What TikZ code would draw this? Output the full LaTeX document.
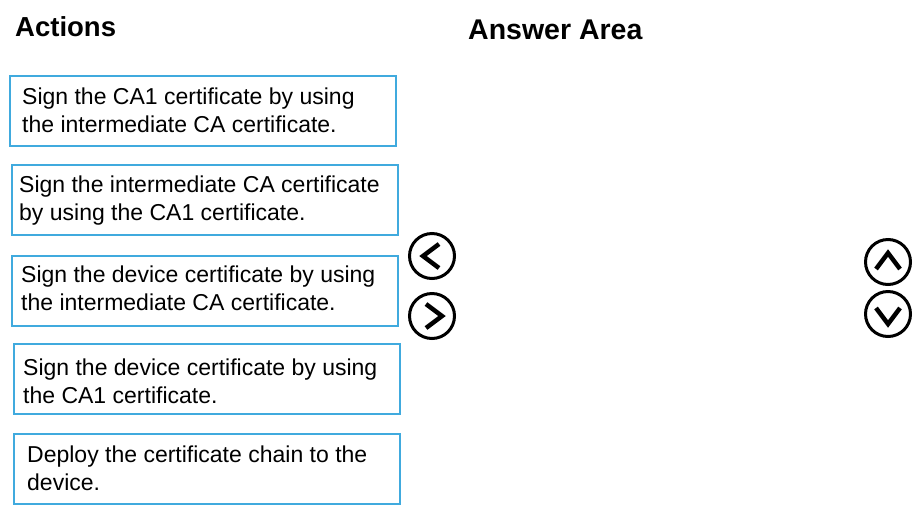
\documentclass[tikz,border=0pt]{standalone}
\usepackage{fontspec}
\setmainfont{Liberation Sans}

\definecolor{boxblue}{RGB}{64,170,222}

\tikzset{
  actbox/.style={draw=boxblue, line width=2pt, anchor=north west, minimum width=386pt, minimum height=70pt, inner sep=0pt},
  acttext/.style={anchor=base west, align=left, inner sep=0pt, font=\fontsize{23}{27.5}\selectfont},
  heading/.style={anchor=base west, inner sep=0pt, font=\fontsize{27.5}{32}\selectfont\bfseries},
  navring/.style={draw=black, circle, line width=3pt, minimum size=45pt, inner sep=0pt},
  chev/.style={line width=4.5pt, line join=miter}
}

\begin{document}
\begin{tikzpicture}[x=1pt,y=-1pt]
\useasboundingbox (0,0) rectangle (920,520);

\node[heading] (HA) at (15,36) {Actions};
\node[heading, font=\fontsize{28.5}{32}\selectfont\bfseries] (HB) at (468,39) {Answer Area};

% the action boxes
\node[actbox] (B1) at (9,75) {};
\node[actbox] (B2) at (11,164) {};
\node[actbox] (B3) at (11,255) {};
\node[actbox] (B4) at (13,343) {};
\node[actbox] (B5) at (13,433) {};

% base anchor sits on the last line
\draw (22,132) node[acttext] (T1) {Sign the CA1 certificate by using\\the intermediate CA certificate.}
  +(-3,88) node[acttext] (T2) {Sign the intermediate CA certificate\\by using the CA1 certificate.}
  +(-1,178) node[acttext] (T3) {Sign the device certificate by using\\the intermediate CA certificate.}
  +(1,271) node[acttext] (T4) {Sign the device certificate by using\\the CA1 certificate.}
  +(5,358) node[acttext] (T5) {Deploy the certificate chain to the\\device.};

% move buttons
\node[navring] (L) at (432,256) {};
\node[navring] (R) at (432,316) {};
\node[navring] (U) at (888,262) {};
\node[navring] (D) at (888,314) {};

\draw[chev] ([shift={(7,-12)}]L.center) -- ([shift={(-9,0)}]L.center) -- ([shift={(7,12)}]L.center);
\draw[chev] ([shift={(-6,-12)}]R.center) -- ([shift={(10,0)}]R.center) -- ([shift={(-6,12)}]R.center);
\draw[chev] ([shift={(-12,7)}]U.center) -- ([shift={(0,-9)}]U.center) -- ([shift={(12,7)}]U.center);
\draw[chev] ([shift={(-12,-6)}]D.center) -- ([shift={(0,10)}]D.center) -- ([shift={(12,-6)}]D.center);
\end{tikzpicture}
\end{document}
